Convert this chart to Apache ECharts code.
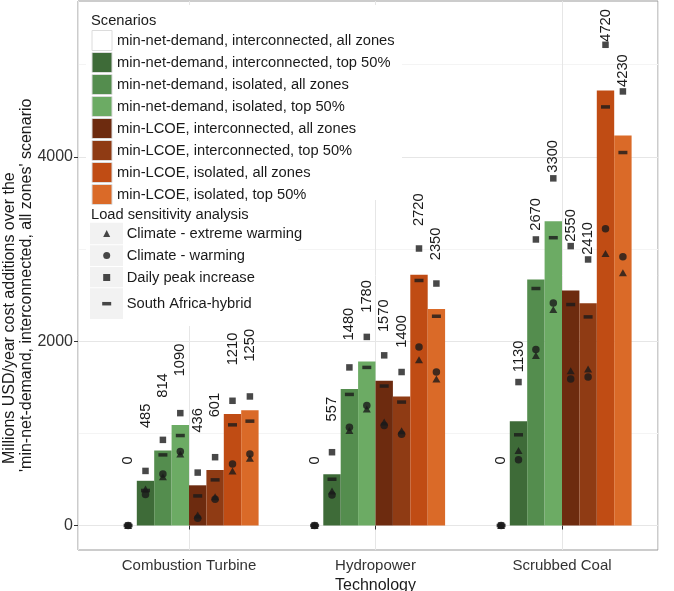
<!DOCTYPE html>
<html>
<head>
<meta charset="utf-8">
<script src="https://cdn.jsdelivr.net/npm/echarts@6/dist/echarts.min.js"></script>
<style>
  html, body { margin: 0; padding: 0; background: #fff; }
  #chart { width: 674px; height: 591px; }
</style>
</head>
<body>
<div id="chart"></div>
<script>
const technologies = ['Combustion Turbine', 'Hydropower', 'Scrubbed Coal'];
const scenarios = [
  'min-net-demand, interconnected, all zones',
  'min-net-demand, interconnected, top 50%',
  'min-net-demand, isolated, all zones',
  'min-net-demand, isolated, top 50%',
  'min-LCOE, interconnected, all zones',
  'min-LCOE, interconnected, top 50%',
  'min-LCOE, isolated, all zones',
  'min-LCOE, isolated, top 50%'
];
// bar heights: one row per scenario, one column per technology
const costAdditions = [
  [0, 0, 0],
  [485, 557, 1130],
  [814, 1480, 2670],
  [1090, 1780, 3300],
  [436, 1570, 2550],
  [601, 1400, 2410],
  [1210, 2720, 4720],
  [1250, 2350, 4230]
];
const sensitivity = ['Climate - extreme warming', 'Climate - warming', 'Daily peak increase', 'South Africa-hybrid'];
// load sensitivity points: one row per technology, one column per scenario
const extremeWarming = [
  [0, 397, 530, 777, 114, 313, 592, 730],
  [0, 375, 1031, 1263, 1122, 1027, 1799, 1589],
  [0, 813, 1843, 2343, 1679, 1698, 2951, 2741]
];
const warming = [
  [0, 335, 560, 802, 78, 285, 668, 777],
  [0, 331, 1067, 1302, 1085, 991, 1937, 1665],
  [0, 712, 1908, 2415, 1589, 1611, 3220, 2915]
];
const dailyPeak = [
  [0, 592, 929, 1219, 574, 741, 1353, 1400],
  [0, 795, 1715, 2046, 1846, 1665, 3005, 2625],
  [0, 1556, 3103, 3766, 3031, 2886, 5215, 4709]
];
const saHybrid = [
  [0, 380, 766, 976, 321, 495, 1092, 1132],
  [0, 502, 1422, 1715, 1513, 1339, 2658, 2270],
  [0, 984, 2571, 3122, 2397, 2263, 4541, 4046]
];

const FONT = '"Liberation Sans", Arial, Helvetica, sans-serif';
const ink = '#1a1a1a';
const fills = ['#ffffff', '#3e6b38', '#548d4e', '#6cab64', '#6d2b0f', '#8f3b14', '#c04c14', '#da6a28'];
const BAR_W = 17.4;
// panel and bar area (px)
const panelL = 78, panelR = 658;
const barL = 95.75, band = 186.5;
const xMin = 1 - (barL + band / 2 - panelL) / band;
const xMax = xMin + (panelR - panelL) / band;

const chart = echarts.init(document.getElementById('chart'));

const barSeries = scenarios.map(function (name, i) {
  return {
    name: name,
    type: 'bar',
    xAxisIndex: 2,
    yAxisIndex: 2,
    barWidth: BAR_W,
    barGap: '0%',
    itemStyle: { color: fills[i] },
    label: {
      show: true,
      position: 'top',
      distance: 65,
      rotate: 90,
      align: 'center',
      verticalAlign: 'middle',
      fontSize: 14.7,
      fontFamily: FONT,
      color: ink
    },
    data: costAdditions[i]
  };
});

const pointSets = [extremeWarming, warming, dailyPeak, saHybrid];
const pointSymbols = ['triangle', 'circle', 'rect', 'rect'];
const pointSizes = [[8, 7], 7.5, 6.5, [9, 3.5]];

const pointSeries = sensitivity.map(function (name, k) {
  const data = [];
  technologies.forEach(function (tech, t) {
    pointSets[k][t].forEach(function (v, s) {
      data.push({ value: [tech, v], symbolOffset: [(s - 3.5) * BAR_W, 0] });
    });
  });
  return {
    name: name,
    type: 'scatter',
    xAxisIndex: 2,
    yAxisIndex: 2,
    symbol: pointSymbols[k],
    symbolSize: pointSizes[k],
    itemStyle: { color: ink },
    z: 3,
    clip: false,
    data: data
  };
});

const legendText = { fontSize: 14.7, color: ink, fontFamily: FONT, lineHeight: 16 };

const option = {
  animation: false,
  grid: [
    { left: panelL, right: 674 - panelR, top: 1, bottom: 41, show: true, backgroundColor: '#fff', borderColor: '#999', borderWidth: 1, outerBoundsMode: 'none' },
    { left: panelL, right: 674 - panelR, top: 1, bottom: 65.5, outerBoundsMode: 'none' },
    { left: barL, width: band * 3, top: 1, bottom: 65.5, outerBoundsMode: 'none' }
  ],
  xAxis: [
    {
      gridIndex: 0, type: 'value', min: xMin, max: xMax, splitNumber: 3,
      axisLine: { show: false }, axisTick: { show: false }, axisLabel: { show: false },
      splitLine: { show: true, lineStyle: { color: '#e6e6e6' } }
    },
    { gridIndex: 1, type: 'value', show: false },
    {
      gridIndex: 2, type: 'category', data: technologies, offset: 24.5,
      axisLine: { show: false },
      axisTick: { show: true, alignWithLabel: true, length: 4, lineStyle: { color: '#333' } },
      axisLabel: { fontSize: 15, color: '#333', margin: 8, fontFamily: FONT },
      splitLine: { show: false },
      name: 'Technology', nameLocation: 'middle', nameGap: 24,
      nameTextStyle: { fontSize: 16, color: ink, fontFamily: FONT, verticalAlign: 'top' }
    }
  ],
  yAxis: [
    { gridIndex: 0, type: 'value', show: false, min: 0, max: 1 },
    {
      gridIndex: 1, type: 'value', min: 0, max: 5690, interval: 2000,
      axisLine: { show: false },
      axisTick: { show: true, length: 4, lineStyle: { color: '#333' } },
      axisLabel: {
        fontSize: 16, color: '#333', margin: 5, showMaxLabel: false, fontFamily: FONT,
        formatter: function (v) { return String(v); }
      },
      splitLine: { show: true, showMaxLine: false, lineStyle: { color: '#e6e6e6' } },
      minorTick: { show: false, splitNumber: 2 },
      minorSplitLine: { show: true, lineStyle: { color: '#f4f4f4' } }
    },
    { gridIndex: 2, type: 'value', show: false, min: 0, max: 5690 }
  ],
  title: [
    { text: 'Scenarios', left: 91, top: 13, padding: 0, textStyle: { fontSize: 14.7, fontWeight: 'normal', color: ink, fontFamily: FONT } },
    { text: 'Load sensitivity analysis', left: 91, top: 207, padding: 0, textStyle: { fontSize: 14.7, fontWeight: 'normal', color: ink, fontFamily: FONT } }
  ],
  legend: [
    {
      data: scenarios, orient: 'vertical', left: 91.5, top: 30, padding: 0,
      icon: 'rect', itemWidth: 20, itemHeight: 20, itemGap: 1, selectedMode: false,
      itemStyle: { borderColor: '#dcdcdc', borderWidth: 1 },
      textStyle: legendText
    },
    {
      data: [
        { name: sensitivity[0], icon: 'triangle' },
        { name: sensitivity[1], icon: 'circle' },
        { name: sensitivity[2], icon: 'rect' }
      ],
      orient: 'vertical', left: 103.2, top: 225.5, padding: 0,
      itemWidth: 7, itemHeight: 7, itemGap: 6, selectedMode: false,
      textStyle: Object.assign({ padding: [0, 0, 0, 11.5] }, legendText)
    },
    {
      data: [{ name: sensitivity[3], icon: 'rect' }],
      orient: 'vertical', left: 102.2, top: 295.7, padding: 0,
      itemWidth: 9, itemHeight: 3.5, selectedMode: false,
      textStyle: Object.assign({ padding: [0, 0, 0, 10.5] }, legendText)
    }
  ],
  graphic: [
    { type: 'rect', z: 1, silent: true, shape: { x: 86, y: 5, width: 316, height: 195 }, style: { fill: '#fff' } },
    { type: 'rect', z: 1, silent: true, shape: { x: 86, y: 202, width: 212, height: 124 }, style: { fill: '#fff' } },
    { type: 'rect', z: 2, silent: true, shape: { x: 90, y: 222.7, width: 33, height: 21.6 }, style: { fill: '#f2f2f2' } },
    { type: 'rect', z: 2, silent: true, shape: { x: 90, y: 245.3, width: 33, height: 20.6 }, style: { fill: '#f2f2f2' } },
    { type: 'rect', z: 2, silent: true, shape: { x: 90, y: 266.9, width: 33, height: 20.4 }, style: { fill: '#f2f2f2' } },
    { type: 'rect', z: 2, silent: true, shape: { x: 90, y: 288.3, width: 33, height: 30.7 }, style: { fill: '#f2f2f2' } },
    {
      type: 'text', x: 10, y: 464, rotation: Math.PI / 2, silent: true,
      style: { text: 'Millions USD/year cost additions over the', fontSize: 16, fontFamily: FONT, fill: ink, align: 'left', verticalAlign: 'middle' }
    },
    {
      type: 'text', x: 27, y: 472, rotation: Math.PI / 2, silent: true,
      style: { text: "'min-net-demand, interconnected, all zones' scenario", fontSize: 16, fontFamily: FONT, fill: ink, align: 'left', verticalAlign: 'middle' }
    }
  ],
  series: barSeries.concat(pointSeries)
};

chart.setOption(option);
</script>
</body>
</html>
